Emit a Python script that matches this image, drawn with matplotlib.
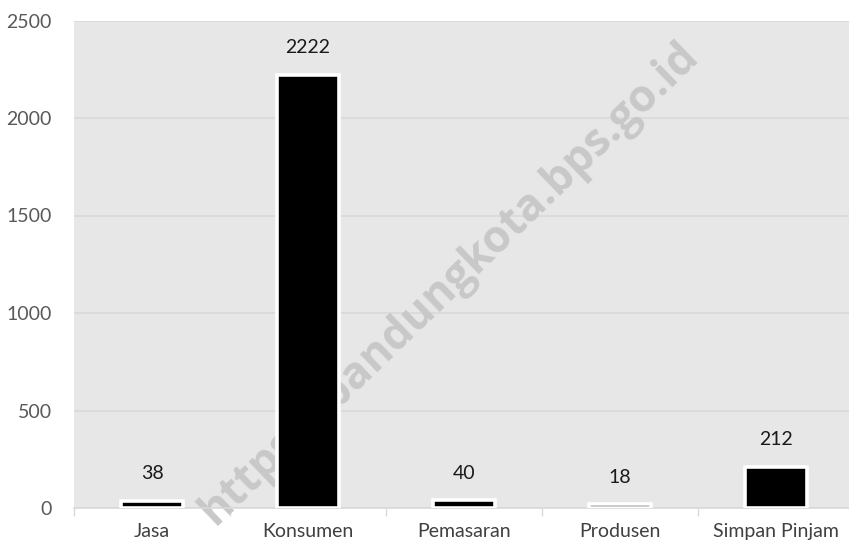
import numpy as np
import matplotlib.pyplot as plt

categories = ['Jasa', 'Konsumen', 'Pemasaran', 'Produsen', 'Simpan Pinjam']
values = [38, 2222, 40, 18, 212]
yticks = [0, 500, 1000, 1500, 2000, 2500]

plt.rcParams['font.family'] = ['Lato', 'DejaVu Sans']

fig = plt.figure(figsize=(8.49, 5.48), dpi=100)
ax = fig.add_axes([74/849, 40/548, 780/849, 487.5/548])
ax.set_facecolor('#e7e7e7')

x = np.arange(len(categories))
ax.bar(x, values, width=0.4, color='black', edgecolor='white', linewidth=2.6, zorder=3)

for xi, v in zip(x, values):
    ax.annotate(str(v), (xi, v), xytext=(0, 19.5), textcoords='offset points',
                ha='center', va='center', fontsize=14, color='#1a1a1a')

ax.set_xlim(-0.5, 4.5)
ax.set_ylim(0, 2500)
ax.set_yticks(yticks)
ax.set_yticklabels([str(t) for t in yticks], fontsize=14, color='#595959')
ax.grid(axis='y', color='#d9d9d9', linewidth=1.2, zorder=0)
ax.set_axisbelow(True)
ax.tick_params(axis='y', length=0, pad=16)

ax.set_xticks(x)
ax.set_xticklabels(categories, fontsize=14, color='#404040')
ax.tick_params(axis='x', which='major', length=0, pad=11)
ax.set_xticks(np.arange(-0.5, 5, 1), minor=True)
ax.tick_params(axis='x', which='minor', length=6, color='#d9d9d9', width=1)

for s in ['top', 'left', 'right']:
    ax.spines[s].set_visible(False)
ax.spines['bottom'].set_color('#d9d9d9')
ax.spines['bottom'].set_linewidth(1.2)

# watermark
ax.text(450/849, 1 - 283/548, 'https://bandungkota.bps.go.id', transform=fig.transFigure,
        rotation=44, ha='center', va='center', fontsize=32, fontweight='bold',
        family=['Open Sans', 'DejaVu Sans'],
        color='#c8c8c8', clip_on=False, zorder=2)

plt.savefig('out.png', dpi=100)
